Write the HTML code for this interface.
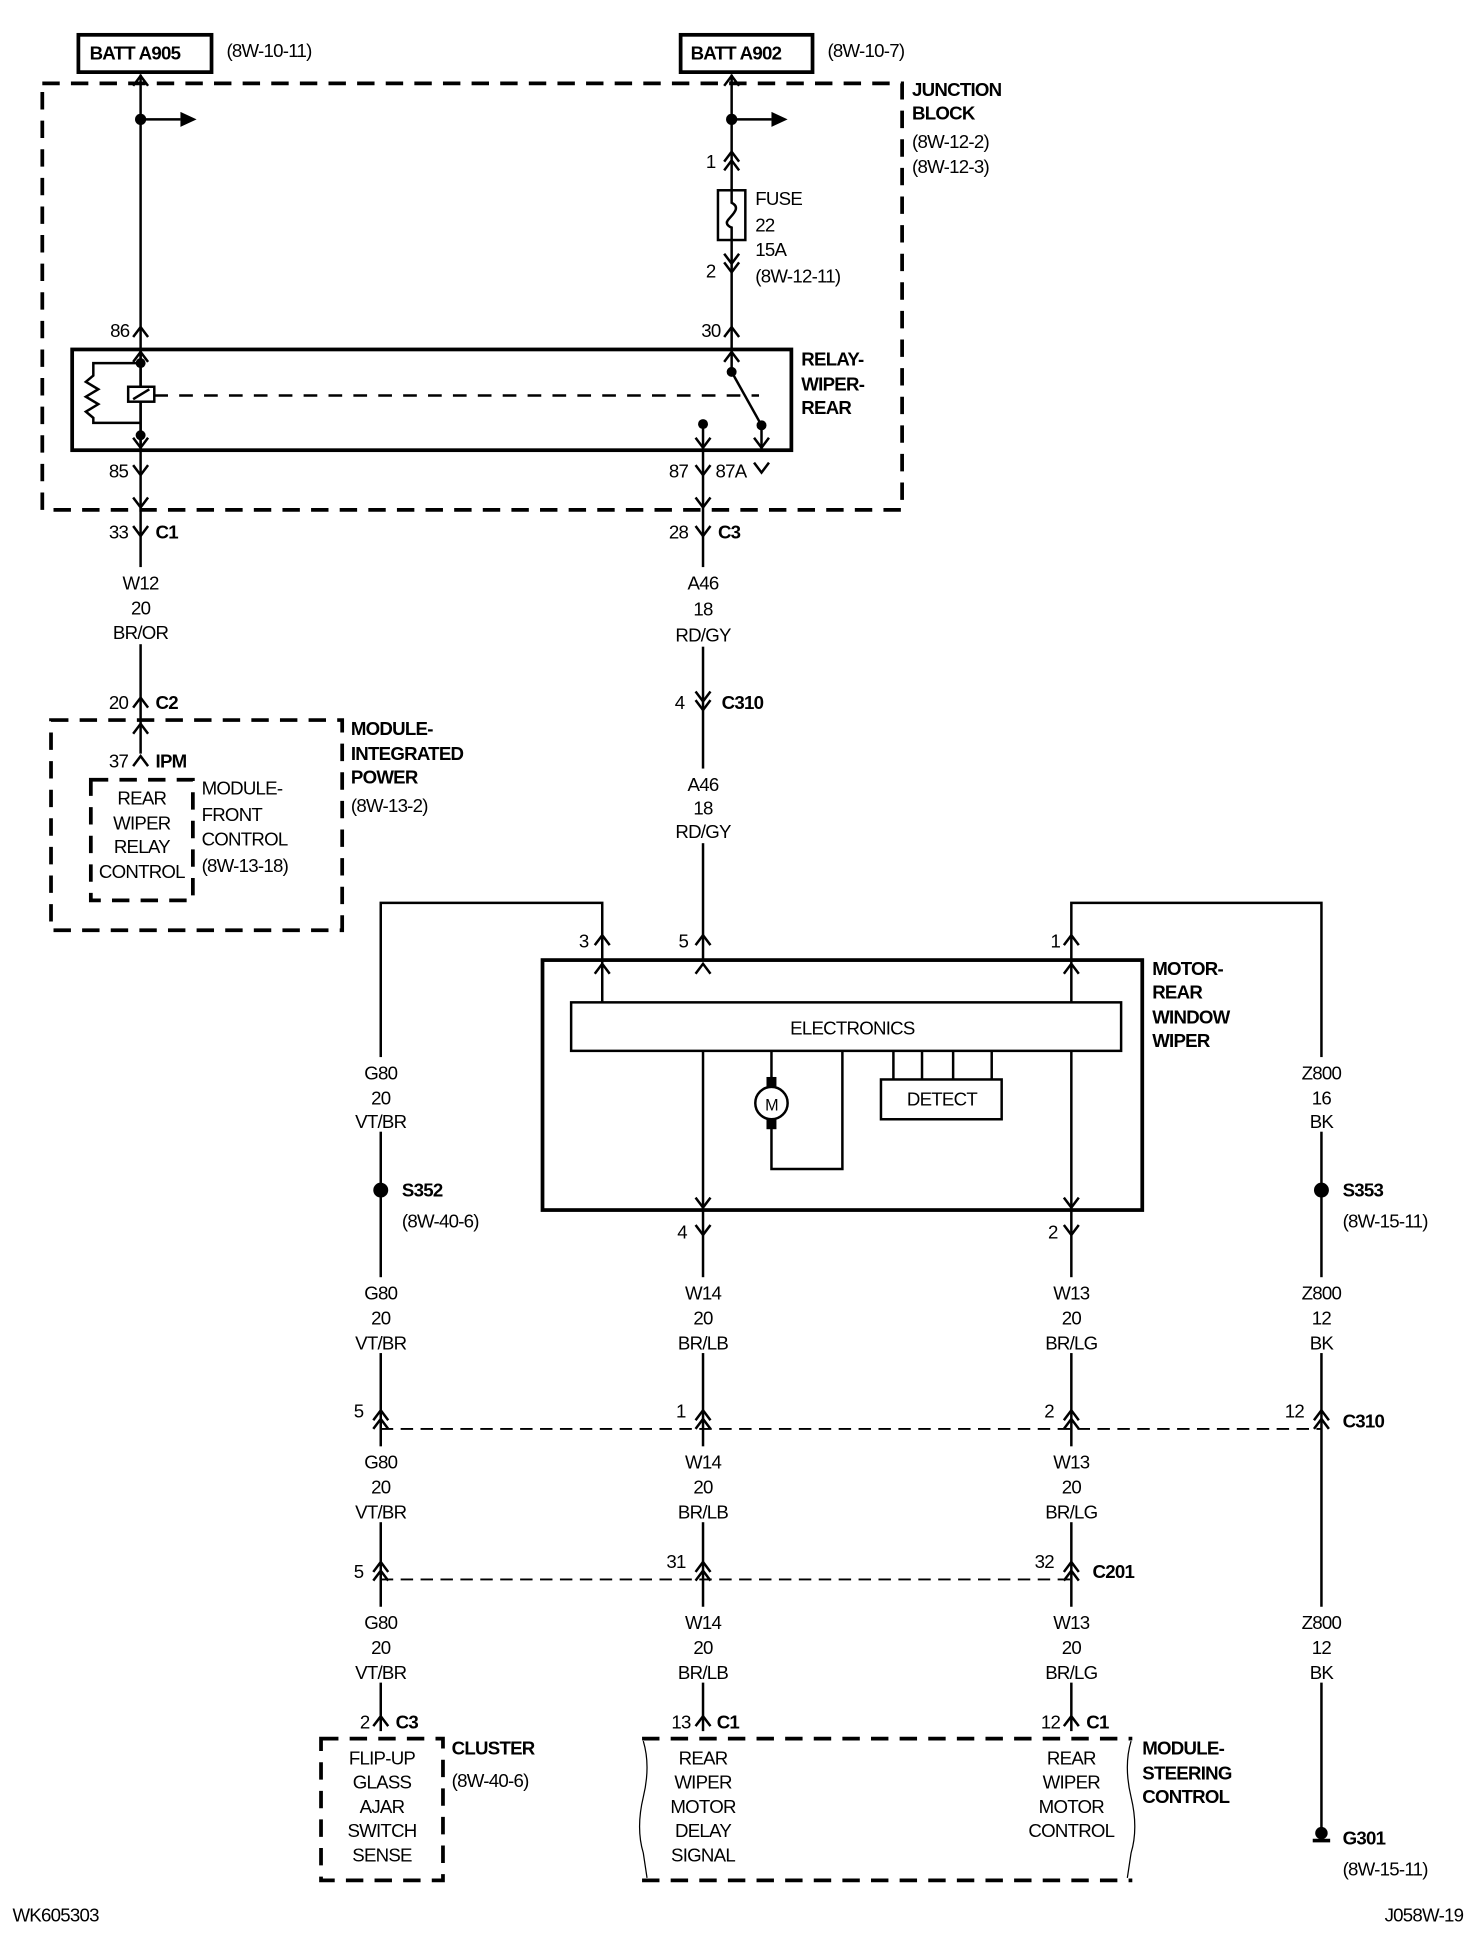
<!DOCTYPE html>
<html><head><meta charset="utf-8"><style>
html,body{margin:0;padding:0;background:#fff}
svg{display:block}
text{font-family:"Liberation Sans",Arial,sans-serif;font-size:15px;fill:#000;letter-spacing:-0.6px}
.b{font-weight:bold}
.m{text-anchor:middle}
.e{text-anchor:end}
</style></head><body>
<svg width="1472" height="1950" viewBox="0 0 1183 1568" preserveAspectRatio="none" xmlns="http://www.w3.org/2000/svg">
<defs>
<path id="cu" d="M-6,8 L0,0 L6,8" fill="none" stroke="#000" stroke-width="2"/>
<path id="cd" d="M-6,-8 L0,0 L6,-8" fill="none" stroke="#000" stroke-width="2"/>
</defs>
<g fill="none" stroke="#000" stroke-width="2">
<rect x="63" y="28" width="107" height="30" stroke-width="3"/>
<rect x="547" y="28" width="106" height="30" stroke-width="3"/>
<rect x="34" y="67" width="691" height="343" stroke-width="3" stroke-dasharray="14,9"/>
<line x1="113" y1="60" x2="113" y2="580"/>
<line x1="113" y1="96" x2="145" y2="96"/>
<line x1="588" y1="60" x2="588" y2="281"/>
<line x1="588" y1="96" x2="620" y2="96"/>
<rect x="577" y="153" width="22" height="40" fill="#fff"/>
<path d="M588,153 v10 c8,4 0,10 -3,14 c-3,4 3,6 3,6 v10"/>
<rect x="58" y="281" width="578" height="81" stroke-width="3"/>
<line x1="113" y1="281" x2="113" y2="362"/>
<path d="M113,292 H75 v10 l-6,5 l10,6 l-10,6 l10,6 l-10,6 l6,5 v4 H113"/>
<rect x="103" y="311" width="21" height="12" fill="#fff"/>
<line x1="107" y1="321" x2="120" y2="313"/>
<line x1="124" y1="318" x2="610" y2="318" stroke-dasharray="11,9"/>
<line x1="588" y1="281" x2="588" y2="299"/>
<line x1="588" y1="299" x2="612" y2="342"/>
<line x1="612" y1="342" x2="612" y2="362"/>
<line x1="565" y1="341" x2="565" y2="362"/>
<line x1="565" y1="362" x2="565" y2="773"/>
<rect x="41" y="579" width="234" height="169" stroke-width="3" stroke-dasharray="14,9"/>
<rect x="73" y="627" width="82" height="97" stroke-width="3" stroke-dasharray="14,9"/>
<line x1="113" y1="580" x2="113" y2="606"/>
<rect x="436" y="772" width="482" height="201" stroke-width="3"/>
<rect x="459" y="806" width="442" height="39"/>
<path d="M484,806 V726 H306 V1392"/>
<path d="M861,806 V726 H1062 V1475"/>
<line x1="565" y1="845" x2="565" y2="1392"/>
<line x1="861" y1="845" x2="861" y2="1392"/>
<path d="M620,845 V874 M620,900 V940 H677 V845"/>
<circle cx="620" cy="887" r="13"/>
<rect x="708" y="868" width="97" height="32"/>
<path d="M718,845V868 M741,845V868 M766,845V868 M797,845V868"/>
<line x1="306" y1="1149" x2="1062" y2="1149" stroke-dasharray="10,6" stroke-width="1.5"/>
<line x1="306" y1="1270" x2="861" y2="1270" stroke-dasharray="10,6" stroke-width="1.5"/>
<rect x="258" y="1398" width="98" height="114" stroke-width="3" stroke-dasharray="14,9"/>
<path d="M516,1398 H910 M516,1512 H910" stroke-width="3" stroke-dasharray="14,9"/>
<path d="M517,1400 q6,20 0,45 q-6,25 0,45 l3,20 M909,1400 q-6,20 0,45 q6,25 0,45 l-3,20" stroke-width="1"/>
<path d="M1055,1480 h14" stroke-width="3"/>
</g>
<g fill="#fff">
<rect x="85" y="456" width="56" height="62"/>
<rect x="535" y="456" width="60" height="64"/>
<rect x="535" y="618" width="60" height="60"/>
<rect x="278" y="850" width="56" height="60"/>
<rect x="1034" y="850" width="56" height="60"/>
<rect x="278" y="1027" width="56" height="61"/><rect x="535" y="1027" width="60" height="61"/><rect x="831" y="1027" width="60" height="61"/><rect x="1034" y="1027" width="56" height="61"/>
<rect x="278" y="1163" width="56" height="61"/><rect x="535" y="1163" width="60" height="61"/><rect x="831" y="1163" width="60" height="61"/>
<rect x="278" y="1292" width="56" height="61"/><rect x="535" y="1292" width="60" height="61"/><rect x="831" y="1292" width="60" height="61"/><rect x="1034" y="1292" width="56" height="61"/>
</g>
<g fill="#000">
<circle cx="113" cy="96" r="4.5"/><circle cx="588" cy="96" r="4.5"/>
<path d="M145,90 L158,96 L145,102Z"/><path d="M620,90 L633,96 L620,102Z"/>
<circle cx="113" cy="292" r="4"/><circle cx="113" cy="350" r="4"/>
<circle cx="588" cy="299" r="4"/><circle cx="612" cy="342" r="4"/><circle cx="565" cy="341" r="4"/>
<circle cx="306" cy="957" r="6"/><circle cx="1062" cy="957" r="6"/>
<circle cx="1062" cy="1474" r="5"/>
<rect x="616" y="866" width="8" height="8"/><rect x="616" y="900" width="8" height="8"/>
</g>
<use href="#cu" x="113" y="61"/><use href="#cu" x="588" y="61"/>
<use href="#cu" x="588" y="122"/><use href="#cu" x="588" y="129"/>
<use href="#cd" x="588" y="212"/><use href="#cd" x="588" y="219"/>
<use href="#cu" x="113" y="263"/><use href="#cu" x="588" y="263"/>
<use href="#cu" x="113" y="283"/><use href="#cu" x="588" y="283"/>
<use href="#cd" x="113" y="360"/><use href="#cd" x="565" y="360"/><use href="#cd" x="612" y="360"/>
<use href="#cd" x="113" y="382"/><use href="#cd" x="565" y="382"/><use href="#cd" x="612" y="380"/>
<use href="#cd" x="113" y="408"/><use href="#cd" x="565" y="408"/>
<use href="#cd" x="113" y="431"/><use href="#cd" x="565" y="431"/>
<use href="#cu" x="113" y="561"/><use href="#cu" x="113" y="582"/><use href="#cu" x="113" y="608"/>
<use href="#cd" x="565" y="564"/><use href="#cd" x="565" y="571"/>
<use href="#cu" x="484" y="752"/><use href="#cu" x="565" y="752"/><use href="#cu" x="861" y="752"/>
<use href="#cu" x="484" y="775"/><use href="#cu" x="565" y="775"/><use href="#cu" x="861" y="775"/>
<use href="#cd" x="565" y="971"/><use href="#cd" x="861" y="971"/>
<use href="#cd" x="565" y="993"/><use href="#cd" x="861" y="993"/>
<use href="#cu" x="306" y="1134"/><use href="#cu" x="306" y="1141"/>
<use href="#cu" x="565" y="1134"/><use href="#cu" x="565" y="1141"/>
<use href="#cu" x="861" y="1134"/><use href="#cu" x="861" y="1141"/>
<use href="#cu" x="1062" y="1134"/><use href="#cu" x="1062" y="1141"/>
<use href="#cu" x="306" y="1256"/><use href="#cu" x="306" y="1263"/>
<use href="#cu" x="565" y="1256"/><use href="#cu" x="565" y="1263"/>
<use href="#cu" x="861" y="1256"/><use href="#cu" x="861" y="1263"/>
<use href="#cu" x="306" y="1380"/><use href="#cu" x="565" y="1380"/><use href="#cu" x="861" y="1380"/>
<text x="72" y="48" class="b">BATT A905</text><text x="182" y="46">(8W-10-11)</text>
<text x="555" y="48" class="b">BATT A902</text><text x="665" y="46">(8W-10-7)</text>
<text x="733" y="77" class="b">JUNCTION</text><text x="733" y="96" class="b">BLOCK</text>
<text x="733" y="119">(8W-12-2)</text><text x="733" y="139">(8W-12-3)</text>
<text x="575" y="135" class="e">1</text><text x="575" y="223" class="e">2</text>
<text x="607" y="165">FUSE</text><text x="607" y="186">22</text><text x="607" y="206">15A</text><text x="607" y="227">(8W-12-11)</text>
<text x="104" y="271" class="e">86</text><text x="579" y="271" class="e">30</text>
<text x="644" y="294" class="b">RELAY-</text><text x="644" y="314" class="b">WIPER-</text><text x="644" y="333" class="b">REAR</text>
<text x="103" y="384" class="e">85</text><text x="553" y="384" class="e">87</text><text x="575" y="384">87A</text>
<text x="103" y="433" class="e">33</text><text x="125" y="433" class="b">C1</text>
<text x="553" y="433" class="e">28</text><text x="577" y="433" class="b">C3</text>
<text x="113" y="474" class="m">W12</text><text x="113" y="494" class="m">20</text><text x="113" y="514" class="m">BR/OR</text>
<text x="565" y="474" class="m">A46</text><text x="565" y="495" class="m">18</text><text x="565" y="516" class="m">RD/GY</text>
<text x="103" y="570" class="e">20</text><text x="125" y="570" class="b">C2</text>
<text x="550" y="570" class="e">4</text><text x="580" y="570" class="b">C310</text>
<text x="565" y="636" class="m">A46</text><text x="565" y="655" class="m">18</text><text x="565" y="674" class="m">RD/GY</text>
<text x="103" y="617" class="e">37</text><text x="125" y="617" class="b">IPM</text>
<text x="282" y="591" class="b">MODULE-</text><text x="282" y="611" class="b">INTEGRATED</text><text x="282" y="630" class="b">POWER</text><text x="282" y="653">(8W-13-2)</text>
<text x="114" y="647" class="m">REAR</text><text x="114" y="667" class="m">WIPER</text><text x="114" y="686" class="m">RELAY</text><text x="114" y="706" class="m">CONTROL</text>
<text x="162" y="639">MODULE-</text><text x="162" y="660">FRONT</text><text x="162" y="680">CONTROL</text><text x="162" y="701">(8W-13-18)</text>
<text x="473" y="762" class="e">3</text><text x="553" y="762" class="e">5</text><text x="852" y="762" class="e">1</text>
<text x="926" y="784" class="b">MOTOR-</text><text x="926" y="803" class="b">REAR</text><text x="926" y="823" class="b">WINDOW</text><text x="926" y="842" class="b">WIPER</text>
<text x="685" y="832" class="m">ELECTRONICS</text>
<text x="620" y="893" class="m" style="font-size:13px">M</text>
<text x="757" y="889" class="m">DETECT</text>
<text x="306" y="868" class="m">G80</text><text x="306" y="888" class="m">20</text><text x="306" y="907" class="m">VT/BR</text>
<text x="1062" y="868" class="m">Z800</text><text x="1062" y="888" class="m">16</text><text x="1062" y="907" class="m">BK</text>
<text x="323" y="962" class="b">S352</text><text x="323" y="987">(8W-40-6)</text>
<text x="1079" y="962" class="b">S353</text><text x="1079" y="987">(8W-15-11)</text>
<text x="552" y="996" class="e">4</text><text x="850" y="996" class="e">2</text>
<text x="306" y="1045" class="m">G80</text><text x="306" y="1065" class="m">20</text><text x="306" y="1085" class="m">VT/BR</text>
<text x="565" y="1045" class="m">W14</text><text x="565" y="1065" class="m">20</text><text x="565" y="1085" class="m">BR/LB</text>
<text x="861" y="1045" class="m">W13</text><text x="861" y="1065" class="m">20</text><text x="861" y="1085" class="m">BR/LG</text>
<text x="1062" y="1045" class="m">Z800</text><text x="1062" y="1065" class="m">12</text><text x="1062" y="1085" class="m">BK</text>
<text x="292" y="1140" class="e">5</text><text x="551" y="1140" class="e">1</text><text x="847" y="1140" class="e">2</text><text x="1048" y="1140" class="e">12</text>
<text x="1079" y="1148" class="b">C310</text>
<text x="306" y="1181" class="m">G80</text><text x="306" y="1201" class="m">20</text><text x="306" y="1221" class="m">VT/BR</text>
<text x="565" y="1181" class="m">W14</text><text x="565" y="1201" class="m">20</text><text x="565" y="1221" class="m">BR/LB</text>
<text x="861" y="1181" class="m">W13</text><text x="861" y="1201" class="m">20</text><text x="861" y="1221" class="m">BR/LG</text>
<text x="292" y="1269" class="e">5</text><text x="551" y="1261" class="e">31</text><text x="847" y="1261" class="e">32</text>
<text x="878" y="1269" class="b">C201</text>
<text x="306" y="1310" class="m">G80</text><text x="306" y="1330" class="m">20</text><text x="306" y="1350" class="m">VT/BR</text>
<text x="565" y="1310" class="m">W14</text><text x="565" y="1330" class="m">20</text><text x="565" y="1350" class="m">BR/LB</text>
<text x="861" y="1310" class="m">W13</text><text x="861" y="1330" class="m">20</text><text x="861" y="1350" class="m">BR/LG</text>
<text x="1062" y="1310" class="m">Z800</text><text x="1062" y="1330" class="m">12</text><text x="1062" y="1350" class="m">BK</text>
<text x="297" y="1390" class="e">2</text><text x="318" y="1390" class="b">C3</text>
<text x="555" y="1390" class="e">13</text><text x="576" y="1390" class="b">C1</text>
<text x="852" y="1390" class="e">12</text><text x="873" y="1390" class="b">C1</text>
<text x="363" y="1411" class="b">CLUSTER</text><text x="363" y="1437">(8W-40-6)</text>
<text x="307" y="1419" class="m">FLIP-UP</text><text x="307" y="1438" class="m">GLASS</text><text x="307" y="1458" class="m">AJAR</text><text x="307" y="1477" class="m">SWITCH</text><text x="307" y="1497" class="m">SENSE</text>
<text x="565" y="1419" class="m">REAR</text><text x="565" y="1438" class="m">WIPER</text><text x="565" y="1458" class="m">MOTOR</text><text x="565" y="1477" class="m">DELAY</text><text x="565" y="1497" class="m">SIGNAL</text>
<text x="861" y="1419" class="m">REAR</text><text x="861" y="1438" class="m">WIPER</text><text x="861" y="1458" class="m">MOTOR</text><text x="861" y="1477" class="m">CONTROL</text>
<text x="918" y="1411" class="b">MODULE-</text><text x="918" y="1431" class="b">STEERING</text><text x="918" y="1450" class="b">CONTROL</text>
<text x="1079" y="1483" class="b">G301</text><text x="1079" y="1508">(8W-15-11)</text>
<text x="10" y="1545">WK605303</text><text x="1176" y="1545" class="e">J058W-19</text>
</svg>
</body></html>
